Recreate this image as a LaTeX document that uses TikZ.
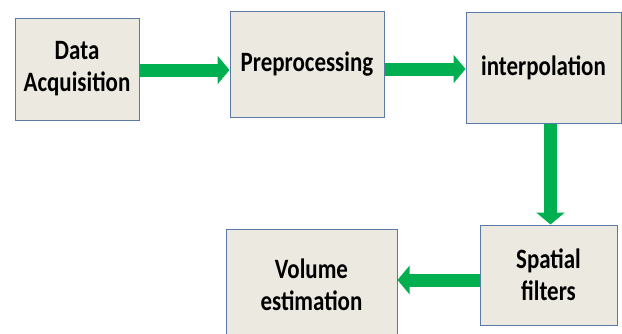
\documentclass[tikz,border=0pt]{standalone}
\usepackage{fontspec}
\setmainfont{Carlito}[FakeStretch=0.82]
\usetikzlibrary{arrows.meta,positioning}
\definecolor{boxfill}{HTML}{ECEAE0}
\definecolor{boxline}{HTML}{5B7BA6}
\definecolor{flowgreen}{HTML}{00B050}

\begin{document}
\begin{tikzpicture}[x=1pt,y=-1pt]
            \tikzset{stage/.style={draw=boxline, line width=1pt, fill=boxfill, align=center,
                        font=\fontsize{28}{32}\selectfont\bfseries, inner sep=0pt},
                     flow/.style={draw=flowgreen, line width=13pt,
                        -{Triangle[length=12pt,width=28pt]}}}
            \clip (0,0) rectangle (622,333);
            \node[stage, minimum width=124pt, minimum height=102pt] (acq) at (77,69) {Data\\Acquisition};
            \node[stage, minimum width=154pt, minimum height=106pt] (pre) at (307,64) {Preprocessing};
            \node[stage, minimum width=155pt, minimum height=111pt] (interp) at (543.5,67.5) {interpolation};
            \node[stage, minimum width=137pt, minimum height=100pt] (spat) at (548.5,275) {Spatial\\filters};
            \node[stage, minimum width=171pt, minimum height=111pt] (vol) at (311.5,284.5) {Volume\\estimation};
            % arrows between the stages
            \draw[flow] ([yshift=-1pt]acq.east) -- ([yshift=-1pt]acq.east -| pre.west);
            \draw[flow] ([yshift=-5pt]pre.east) -- ([yshift=-5pt]pre.east -| interp.west);
            \draw[flow] ([xshift=7pt]interp.south) -- ([xshift=7pt]interp.south |- spat.north);
            \draw[flow] ([yshift=-5pt]spat.west) -- ([yshift=-5pt]spat.west -| vol.east);
        \end{tikzpicture}
\end{document}
